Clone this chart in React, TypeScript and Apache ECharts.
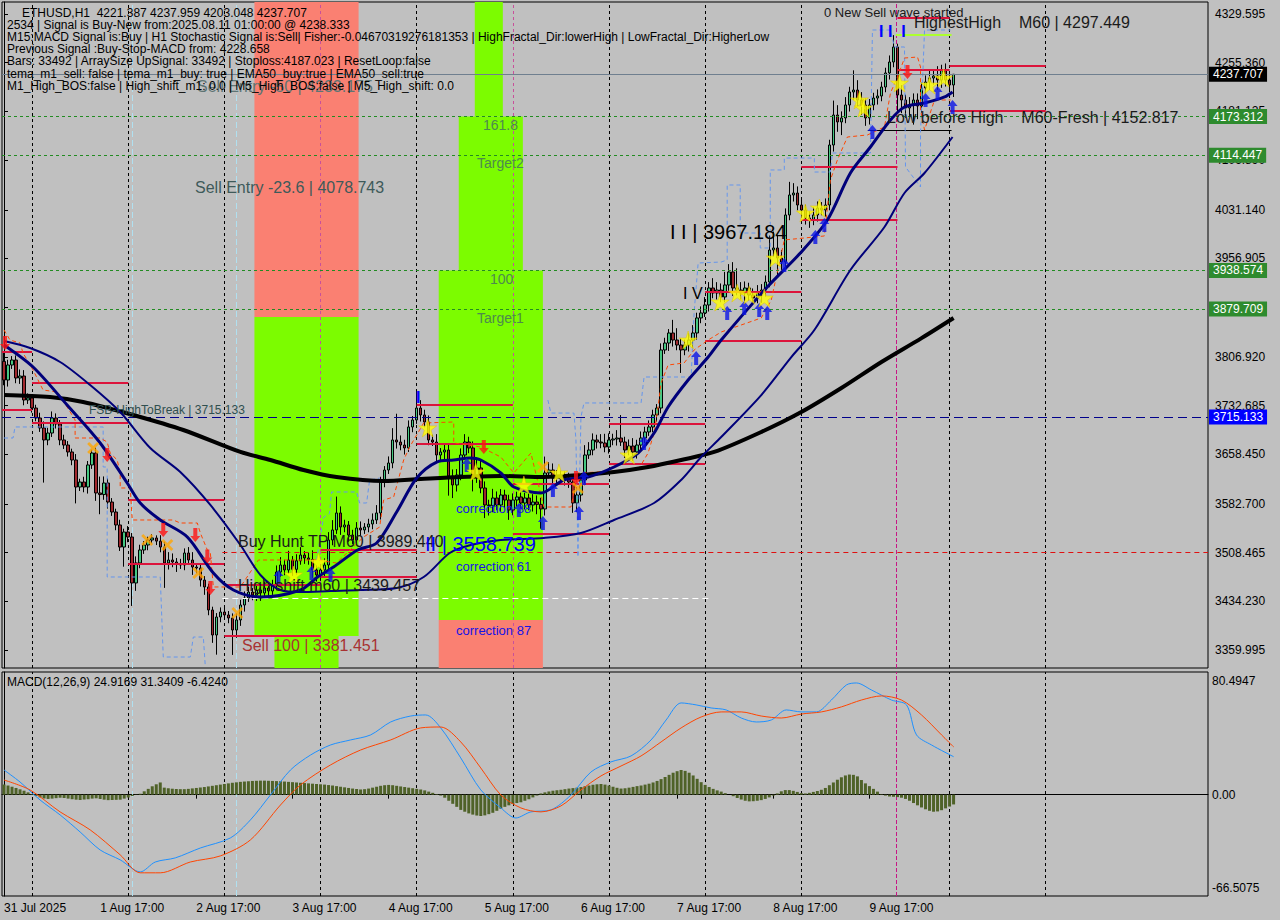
import React, { useEffect, useRef } from "react";
import * as echarts from "echarts";

const SLOTS = 301;
const PRICE_MIN = 3332.57;
const PRICE_MAX = 4347.89;
const MACD_MIN = -66.5075;
const MACD_MAX = 80.4947;
const FIRST_OPEN = 3800;
const FONT = '"Liberation Sans", Arial, sans-serif';

const tickLabels = ["31 Jul 2025", "1 Aug 17:00", "2 Aug 17:00", "3 Aug 17:00", "4 Aug 17:00", "5 Aug 17:00", "6 Aug 17:00", "7 Aug 17:00", "8 Aug 17:00", "9 Aug 17:00"];
const priceTicks = [4329.595, 4255.36, 4181.125, 4106.89, 4031.14, 3956.905, 3882.67, 3806.92, 3732.685, 3658.45, 3582.7, 3508.465, 3434.23, 3359.995];
const macdZeroTick = [0];
const macdEdgeLabels = ["80.4947", "-66.5075"];

const closes = [
  3771.6, 3794.5, 3802.1, 3774.7, 3777.7, 3741.1, 3744.2, 3728.9, 3713.7, 3698.5,
  3680.2, 3690.8, 3713.7, 3704.6, 3680.2, 3672.5, 3661.9, 3649.7, 3608.5, 3616.1,
  3608.5, 3642.1, 3660.3, 3599.4, 3597.0, 3614.6, 3585.6, 3570.4, 3550.6, 3517.0,
  3539.9, 3532.3, 3462.2, 3492.7, 3512.5, 3520.1, 3527.7, 3530.8, 3526.0, 3517.0,
  3492.7, 3497.2, 3494.2, 3491.0, 3489.6, 3507.9, 3497.2, 3486.5, 3485.0, 3466.7,
  3456.1, 3421.0, 3382.9, 3410.3, 3417.9, 3413.4, 3408.8, 3390.5, 3405.8, 3428.6,
  3439.3, 3448.4, 3443.9, 3451.5, 3446.9, 3454.5, 3450.0, 3459.1, 3478.9, 3489.6,
  3482.0, 3497.2, 3483.0, 3496.0, 3504.8, 3500.3, 3498.0, 3482.0, 3474.4, 3482.0,
  3489.6, 3527.7, 3543.0, 3568.9, 3547.5, 3550.6, 3535.3, 3527.7, 3546.0, 3543.0,
  3547.5, 3552.1, 3558.2, 3568.9, 3616.1, 3634.4, 3645.1, 3680.2, 3677.1, 3672.5,
  3668.0, 3700.0, 3710.7, 3728.9, 3718.3, 3707.6, 3680.2, 3677.1, 3657.3, 3661.9,
  3664.9, 3625.3, 3611.6, 3626.8, 3657.3, 3677.1, 3668.0, 3626.8, 3637.5, 3607.0,
  3581.1, 3580.0, 3591.7, 3581.1, 3596.3, 3588.7, 3573.4, 3588.7, 3593.3, 3584.1,
  3591.7, 3581.1, 3585.6, 3582.0, 3575.0, 3629.9, 3634.4, 3622.2, 3625.3, 3620.7,
  3622.2, 3616.1, 3584.1, 3596.3, 3619.2, 3657.3, 3664.9, 3680.2, 3677.1, 3675.6,
  3669.5, 3680.2, 3681.7, 3683.2, 3677.1, 3664.9, 3671.0, 3661.9, 3672.5, 3683.2,
  3692.4, 3700.0, 3718.3, 3728.9, 3817.4, 3828.0, 3843.3, 3832.6, 3825.0, 3817.4,
  3825.0, 3832.6, 3843.3, 3866.2, 3873.8, 3886.0, 3911.9, 3904.3, 3908.8, 3898.2,
  3916.5, 3936.3, 3911.9, 3908.8, 3904.3, 3911.9, 3901.2, 3896.6, 3904.3, 3908.8,
  3921.0, 3969.8, 3972.9, 3957.6, 3951.5, 4023.2, 4053.7, 4056.7, 4038.4, 4030.8,
  4018.6, 4015.6, 4023.2, 4033.8, 4030.8, 4038.4, 4129.9, 4175.6, 4165.0, 4171.1,
  4190.9, 4210.7, 4213.7, 4198.5, 4190.9, 4171.1, 4190.9, 4201.5, 4204.6, 4218.3,
  4239.7, 4256.4, 4279.3, 4206.1, 4198.5, 4186.3, 4190.9, 4198.5, 4189.3, 4216.8,
  4225.9, 4232.0, 4235.1, 4229.0, 4244.2, 4229.0, 4221.387, 4237.707,
];

const wickUp = [
  15, 8, 6, 7, 10, 9, 7, 6, 5, 8,
  10, 8, 10, 7, 6, 8, 6, 5, 9, 5,
  8, 6, 5, 8, 25, 10, 7, 6, 5, 8,
  5, 9, 6, 10, 8, 6, 5, 6, 4, 9,
  8, 12, 10, 6, 8, 7, 9, 12, 6, 5,
  6, 5, 5, 6, 7, 8, 6, 7, 10, 8,
  10, 8, 6, 7, 5, 9, 6, 8, 10, 12,
  8, 14, 6, 10, 12, 6, 8, 14, 7, 9,
  10, 12, 15, 25, 10, 8, 6, 8, 9, 10,
  6, 8, 10, 12, 8, 6, 10, 18, 40, 10,
  8, 10, 6, 25, 12, 8, 10, 8, 12, 6,
  10, 8, 10, 9, 10, 12, 8, 10, 14, 12,
  10, 8, 14, 10, 9, 8, 8, 10, 8, 9,
  8, 8, 12, 10, 10, 25, 12, 10, 9, 8,
  10, 8, 8, 12, 6, 15, 12, 10, 8, 12,
  14, 10, 8, 12, 35, 8, 10, 12, 8, 10,
  8, 10, 8, 6, 10, 8, 6, 20, 18, 10,
  8, 10, 12, 8, 10, 12, 9, 15, 12, 10,
  20, 12, 15, 30, 12, 10, 8, 10, 12, 9,
  10, 22, 25, 20, 12, 10, 20, 15, 10, 12,
  8, 10, 12, 10, 9, 10, 8, 22, 15, 10,
  12, 8, 30, 15, 12, 10, 9, 8, 10, 8,
  8, 10, 18.1, 5, 15, 8, 12, 10, 10, 8,
  10, 12, 10, 15, 8, 10, 9, 0.252,
];

const wickDn = [
  8, 10, 6, 8, 9, 8, 6, 7, 5, 6,
  65, 8, 6, 7, 8, 6, 7, 8, 25, 6,
  8, 10, 6, 12, 30, 8, 10, 6, 8, 6,
  30, 8, 35, 12, 8, 6, 8, 5, 6, 8,
  38, 10, 8, 12, 6, 8, 7, 12, 8, 10,
  12, 8, 12, 30, 8, 6, 8, 38, 12, 9,
  10, 6, 8, 9, 12, 8, 10, 6, 8, 7,
  8, 6, 10, 8, 6, 9, 8, 12, 10, 9,
  10, 6, 8, 6, 12, 8, 10, 6, 8, 9,
  6, 8, 8, 6, 10, 8, 6, 8, 10, 8,
  10, 6, 8, 6, 10, 8, 8, 6, 10, 8,
  12, 30, 20, 10, 8, 6, 8, 25, 12, 8,
  20, 15, 10, 8, 10, 12, 15, 8, 10, 8,
  10, 8, 10, 15, 30, 10, 8, 10, 12, 8,
  10, 9, 15, 14, 10, 8, 6, 8, 10, 8,
  8, 10, 8, 10, 6, 12, 8, 14, 10, 8,
  8, 6, 8, 10, 8, 6, 12, 10, 8, 35,
  8, 10, 12, 10, 8, 6, 10, 8, 10, 8,
  8, 10, 12, 8, 10, 12, 8, 10, 8, 15,
  10, 8, 10, 30, 12, 8, 8, 10, 8, 12,
  10, 12, 8, 10, 8, 10, 8, 10, 15, 20,
  8, 10, 12, 10, 15, 12, 10, 8, 10, 8,
  8, 10, 8, 25, 20, 15, 12, 30, 20, 10,
  8, 12, 10, 15, 12, 10, 8, 18.339,
];

const macdHist = [
  6.6, 6.0, 5.2, 4.4, 3.5, 2.6, 1.5, 0.4, -0.8, -1.8,
  -2.5, -2.8, -2.6, -2.3, -2.0, -2.2, -2.6, -3.0, -3.3, -3.5,
  -3.2, -3.0, -2.6, -2.4, -2.8, -3.3, -3.6, -3.5, -3.4, -3.3,
  -2.6, -1.8, -0.9, -0.2, 0.6, 2.2, 3.8, 5.5, 6.8, 8.0,
  4.6, 4.2, 3.9, 3.7, 3.6, 3.6, 3.8, 4.1, 4.4, 4.7,
  5.0, 5.4, 5.8, 6.2, 6.6, 7.0, 7.4, 7.8, 8.1, 8.4,
  8.6, 8.8, 9.0, 9.1, 9.2, 9.2, 9.1, 9.0, 8.9, 8.8,
  8.6, 8.4, 8.2, 8.0, 7.8, 7.6, 7.4, 7.2, 7.0, 6.8,
  6.6, 6.3, 6.0, 5.6, 5.2, 4.8, 4.4, 4.0, 3.7, 3.4,
  3.6, 4.0, 4.6, 5.2, 5.8, 6.2, 6.4, 6.2, 5.8, 5.4,
  5.0, 4.6, 4.2, 3.8, 3.4, 2.8, 2.0, 1.2, 0.4, -0.6,
  -2.0, -4.0, -6.0, -8.0, -10.0, -11.2, -12.3, -13.1, -13.7, -14.0,
  -13.6, -12.8, -11.9, -10.6, -9.2, -8.0, -7.0, -6.2, -5.5, -5.0,
  -4.0, -3.0, -1.8, -0.6, 0.8, 1.5, 2.1, 2.6, 2.9, 3.2,
  3.6, 4.0, 4.3, 4.6, 5.0, 5.5, 6.0, 6.5, 6.8, 7.0,
  6.6, 6.0, 5.2, 4.5, 4.0, 4.2, 4.6, 5.1, 5.6, 6.0,
  6.6, 7.2, 8.0, 9.0, 10.2, 11.6, 13.0, 14.4, 15.4, 16.2,
  15.6, 14.4, 12.6, 10.4, 8.2, 6.4, 5.0, 3.8, 2.8, 2.0,
  1.0, 0.0, -1.0, -2.2, -3.2, -4.0, -4.4, -4.3, -4.0, -3.6,
  -2.8, -1.8, -0.6, 0.8, 2.2, 3.0, 3.0, 2.5, 1.8, 1.0,
  0.8, 1.2, 1.8, 2.4, 3.2, 4.4, 6.2, 8.0, 9.8, 11.4,
  12.6, 13.2, 13.0, 12.0, 9.6, 7.4, 5.6, 3.8, 2.0, 0.3,
  -0.6, -1.2, -1.4, -1.6, -2.0, -2.8, -4.0, -5.5, -7.0, -8.4,
  -9.6, -10.6, -11.2, -11.0, -10.2, -9.0, -7.8, -6.424,
];

const macdLine = [[0, 16.2], [4, 8.3], [9, -3.5], [14, -13.3], [19, -24.5], [24, -36.3], [29, -42.8], [34, -50.7], [37.75, -44.2], [42.75, -41.5], [49, -35.0], [56.5, -28.4], [61.5, -16.6], [66.5, -0.2], [71.5, 16.2], [76.5, 26.0], [81.5, 32.6], [86.5, 35.9], [91.5, 39.2], [96.5, 47.7], [101.5, 51.6], [105.25, 52.3], [109, 43.8], [114, 24.1], [119, 3.1], [124, -8.7], [127.75, -15.3], [131.5, -11.3], [136.5, -10.0], [141.5, -0.2], [146.5, 14.9], [151.5, 21.5], [156.5, 25.4], [161.5, 35.9], [165.25, 49.0], [169, 60.2], [172.75, 58.9], [176.5, 56.9], [180.25, 55.6], [184, 50.3], [187.75, 47.7], [191.5, 49.0], [195.25, 55.6], [199, 54.3], [202.75, 54.3], [206.5, 62.1], [210.25, 72.0], [212.75, 73.3], [216.5, 68.7], [221.5, 62.1], [225.25, 58.9], [227.75, 39.2], [231.5, 32.6], [237, 24.9169]];
const signalLine = [[0, 9.6], [6.5, 3.1], [14, -11.3], [21.5, -23.1], [29, -39.5], [34, -51.3], [39, -51.3], [46.5, -44.2], [54, -40.2], [61.5, -29.7], [69, -6.8], [74, 6.4], [81.5, 19.5], [89, 29.3], [96.5, 35.9], [104, 43.8], [109, 44.4], [114, 34.6], [119, 17.5], [124, -0.2], [129, -8.7], [134, -11.3], [139, -7.4], [144, 3.1], [149, 12.3], [154, 18.8], [159, 25.4], [164, 34.6], [169, 43.8], [174, 51.0], [179, 54.3], [184, 54.3], [189, 51.6], [194, 50.3], [199, 52.9], [204, 54.3], [209, 57.6], [214, 62.1], [219, 64.8], [224, 62.1], [229, 52.3], [234, 39.2], [237, 31.3409]];

const sma200 = [[0, 3748.8], [11.5, 3745.7], [19.75, 3738.1], [32.25, 3718.3], [44.75, 3695.4], [59, 3661.9], [66.5, 3649.7], [74.75, 3634.4], [83, 3623.7], [94.75, 3617.7], [104, 3620.7], [114, 3623.7], [124, 3625.3], [134.75, 3623.7], [144, 3626.8], [152.25, 3631.4], [160.75, 3639.0], [169, 3649.7], [177.25, 3661.9], [189, 3692.4], [199, 3722.8], [209, 3759.4], [219, 3799.1], [229, 3835.5], [237, 3866.2]];
const emaFast = [[0, 3825.0], [7.25, 3791.4], [15.75, 3733.5], [24, 3675.6], [30.75, 3614.6], [34, 3584.1], [39, 3558.2], [45.75, 3532.3], [52.25, 3477.4], [57.25, 3451.5], [64, 3440.8], [74, 3451.5], [78.25, 3471.3], [82.25, 3486.5], [88.25, 3512.5], [93, 3523.1], [98, 3570.4], [103, 3622.2], [108, 3646.6], [112.25, 3649.7], [116.25, 3652.7], [119, 3649.7], [124, 3629.9], [127.25, 3608.5], [134, 3599.4], [139.75, 3619.2], [145.75, 3623.7], [152.25, 3639.0], [158.25, 3660.3], [162.25, 3690.8], [165.75, 3730.5], [170.75, 3771.6], [175.75, 3806.6], [179, 3832.6], [190.5, 3913.4], [198.75, 3965.2], [205.5, 4015.5], [211.25, 4087.2], [216.25, 4126.8], [221.25, 4168.0], [224.75, 4187.8], [229.75, 4193.9], [234.75, 4203.1], [236.75, 4210.7]];
const emaSlow = [[0, 3831.1], [6.5, 3820.4], [14, 3799.1], [21.5, 3764.0], [29, 3722.8], [36.5, 3668.0], [44, 3631.4], [51.5, 3581.1], [59, 3520.1], [64, 3474.4], [69, 3451.5], [74, 3448.4], [81.5, 3450.0], [89, 3451.5], [98, 3454.5], [104.75, 3471.3], [111.25, 3507.9], [116.5, 3520.1], [124, 3527.7], [134.75, 3530.8], [144, 3538.4], [152.25, 3558.2], [162.25, 3584.1], [169, 3619.2], [174, 3654.2], [179, 3684.7], [189, 3748.7], [196.5, 3806.6], [202.25, 3847.8], [211.25, 3939.3], [219.75, 4004.9], [224.75, 4056.7], [229.75, 4087.2], [236.75, 4142.1]];

const trailStop = [[0, 3847.9], [1.5, 3832.6], [4, 3828.0], [4.75, 3812.8], [7.25, 3786.9], [9.75, 3756.4], [13.25, 3753.3], [15.75, 3730.5], [17.75, 3710.6], [17.75, 3683.2], [24, 3683.2], [25.75, 3677.1], [26.5, 3660.3], [28.25, 3649.7], [29, 3629.9], [29, 3607.0], [31.5, 3607.0], [32, 3558.2], [42.25, 3558.2], [44, 3553.6], [48.25, 3553.6], [49, 3538.4], [50.75, 3512.5], [51.5, 3507.9], [52.25, 3456.1], [59, 3456.1], [63.5, 3497.2], [78, 3497.2], [83, 3492.7], [89.75, 3532.3], [93.75, 3547.5], [94.75, 3588.7], [97.25, 3593.3], [99.75, 3649.7], [101.25, 3669.5], [104.75, 3706.1], [112.25, 3707.6], [112.25, 3675.6], [119, 3669.5], [124, 3654.2], [127.25, 3629.9], [131.5, 3660.3], [134.75, 3578.0], [141.5, 3578.0], [143.25, 3629.9], [158.25, 3634.4], [160.75, 3660.3], [162.25, 3690.8], [163.25, 3730.5], [164, 3767.0], [165.75, 3794.5], [169.75, 3797.6], [172.25, 3817.4], [175.75, 3832.6], [179, 3844.8], [189, 3866.2], [191.5, 3893.6], [194.75, 3985.1], [204.75, 3991.2], [206.25, 4076.5], [208, 4107.0], [210.5, 4142.1], [215.5, 4145.2], [219.75, 4157.3], [221.25, 4209.2], [223, 4233.5], [224.75, 4262.5], [228, 4264.0], [228.75, 4248.8], [228.75, 4183.2], [229.75, 4152.8], [232.25, 4198.5], [236.25, 4198.5]];

const envelopeA = [[0, 3683.2], [2.25, 3683.2], [2.75, 3700.0], [24.75, 3700.0], [24.75, 3639.0], [25.75, 3639.0], [25.75, 3471.3], [39, 3471.3], [39.75, 3349.3], [46.5, 3349.3], [47.25, 3379.8], [49.75, 3379.8], [50.25, 3334.1]];
const envelopeB = [[78, 3497.2], [79.75, 3562.1], [81.25, 3568.2], [81.75, 3600.9], [88, 3600.9], [88.75, 3584.1], [90.5, 3584.1], [91.25, 3619.2], [93.75, 3622.2]];
const envelopeC = [[135.75, 3741.1], [136.5, 3721.2], [142.25, 3721.2], [142.75, 3680.2], [143.25, 3501.8], [144, 3715.2], [144.75, 3736.6], [159, 3736.6], [159.75, 3776.2], [171.5, 3776.2], [172.25, 3875.1], [173.25, 3950.0], [179, 3951.5], [180.5, 3954.6], [180.5, 4068.9], [183.75, 4068.9], [183.75, 3995.7], [188.75, 3995.7], [188.75, 3972.9], [191.25, 3972.9], [191.25, 4091.8], [194.75, 4091.8], [194.75, 4110.0], [202.25, 4110.0], [202.25, 4088.7], [206.25, 4088.7], [206.75, 4117.7], [216.25, 4117.7], [216.75, 4305.2], [221.25, 4305.2], [222.25, 4279.3], [224.75, 4279.3], [225, 4096.4], [228.75, 4065.9], [228.75, 4148.2], [229.75, 4305.2], [236.25, 4305.2]];

// [startIndex, endIndex, price]
const levelSegments = [
  [-0.5, 7, 3814.5], [-0.5, 7, 3725.9], [7, 31, 3767.1], [7, 31, 3706.1],
  [31, 55, 3588.7], [31, 55, 3491.1], [55, 79, 3459.1], [55, 79, 3381.451],
  [79, 103, 3512.5], [79, 103, 3471.3], [103, 127, 3733.5], [103, 127, 3674.0],
  [127, 151, 3613.1], [127, 151, 3536.8], [151, 175, 3704.6], [151, 175, 3643.6],
  [175, 199, 3905.8], [175, 199, 3831.1], [199, 223, 4096.4], [199, 223, 4015.6],
  [223, 236, 4323.5], [223, 236, 4244.2], [236, 260, 4250.3], [236, 260, 4181.7],
];

// [x1, x2, top, bottom, kind]
const zones = [
  [62.5, 88.5, PRICE_MAX, 3867.7, "sell"],
  [62.5, 88.5, 3867.7, 3381.451, "buy"],
  [67.5, 83.5, 3381.451, PRICE_MIN, "buy"],
  [117.5, 124.5, PRICE_MAX, 4173.312, "buy"],
  [113.5, 129.5, 4173.312, 3938.574, "buy"],
  [108.5, 134.5, 3938.574, 3405.8, "buy"],
  [108.5, 134.5, 3405.8, PRICE_MIN, "sell"],
];

const gridLineIdx = [7, 31, 55, 79, 103, 127, 151, 175, 199, 236, 260];
const cyanLineIdx = [32, 58];
const pinkLineIdx = [79, 127];
const magentaLineIdx = 222.6;

const lastPrice = 4237.707;
const greenLevels = [4173.312, 4114.447, 3938.574, 3879.709];
const fsbLevel = 3715.133;
const redDashLevel = 3508.465;
const highShiftLevel = 3439.457;
const lowBeforeHigh = 4152.817;
const highestHigh = 4297.449;

const starPts = [[72.25, 3474.4], [78.5, 3494.2], [105.75, 3698.5], [117.75, 3631.4], [129.75, 3611.6], [138.5, 3629.9], [156, 3657.3], [170.75, 3832.6], [178.75, 3890.5], [183, 3904.3], [186, 3901.2], [189.75, 3896.6], [192.5, 3957.6], [200, 4026.2], [203.5, 4033.8], [213.5, 4198.5], [214.5, 4186.3], [223.5, 4224.4], [231, 4221.4], [234.5, 4232.0]];
const upArrowPts = [[68.5, 3471.3], [76.75, 3477.4], [81.5, 3474.4], [115.5, 3642.1], [128.5, 3573.5], [134.5, 3553.6], [137, 3604.0], [143.5, 3568.9], [144.75, 3622.2], [159.75, 3675.6], [172.75, 3805.2], [180.5, 3873.8], [184.75, 3881.4], [188.5, 3878.3], [190.5, 3873.8], [194.75, 3947.0], [202.5, 3989.6], [204.75, 4007.9], [216.75, 4149.7], [230, 4198.5], [233, 4209.2], [236.75, 4187.8]];
const downArrowPts = [[0.25, 3828.0], [25.75, 3657.3], [39.75, 3543.0], [47.75, 3535.3], [50.75, 3502.5], [51.5, 3454.5], [119.75, 3669.5], [142.75, 3622.2], [225.5, 4241.2]];
const crossPts = [[22.25, 3667.9], [35.75, 3527.7], [40.75, 3520.1], [48.5, 3477.4], [58.25, 3416.4], [134.5, 3639.0], [143.25, 3607.0]];

const headerLines = [
  "ETHUSD,H1  4221.387 4237.959 4203.048 4237.707",
  "2534 | Signal is Buy-New from:2025.08.11 01:00:00 @ 4238.333",
  "M15:MACD Signal is:Buy | H1 Stochastic Signal is:Sell| Fisher:-0.04670319276181353 | HighFractal_Dir:lowerHigh | LowFractal_Dir:HigherLow",
  "Previous Signal :Buy-Stop-MACD from: 4228.658",
  "Bars: 33492 | ArraySize UpSignal: 33492 | Stoploss:4187.023 | ResetLoop:false",
  "tema_m1_sell: false | tema_m1_buy: true | EMA50_buy:true | EMA50_sell:true",
  "M1_High_BOS:false | High_shift_m1: 0.0 | M5_High_BOS:false | M5_High_shift: 0.0",
];

const STAR = "path://M50,0 L61,35 L98,35 L68,57 L79,91 L50,70 L21,91 L32,57 L2,35 L39,35 Z";
const UP = "path://M5,0 L10,6 L7,6 L7,14 L3,14 L3,6 L0,6 Z";
const DOWN = "path://M3,0 L7,0 L7,8 L10,8 L5,14 L0,8 L3,8 Z";
const CROSS = "path://M0,2 L2,0 L6,4 L10,0 L12,2 L8,6 L12,10 L10,12 L6,8 L2,12 L0,10 L4,6 Z";

function txt(text: string, x: number, y: number, size: number, color: string, weight = "normal") {
  return {
    type: "text", x, y, z: 100, silent: true,
    style: { text, fill: color, font: `${weight} ${size}px ${FONT}`, verticalAlign: "middle", textVerticalAlign: "middle", align: "left" },
  };
}

function levelMark(value: number, color: string, type: any, boxColor: string) {
  return {
    yAxis: value,
    lineStyle: { color, type, width: 1 },
    label: {
      show: true, position: "end", formatter: value.toFixed(3), color: "#fff", backgroundColor: boxColor,
      padding: [2, 4, 1, 4], fontFamily: FONT, fontSize: 12, distance: 1,
    },
  };
}

function buildOption() {
  const candleData = closes.map((c, i) => {
    const o = i === 0 ? FIRST_OPEN : closes[i - 1];
    return [o, c, Math.min(o, c) - wickDn[i], Math.max(o, c) + wickUp[i]];
  });
  const cats = Array.from({ length: SLOTS }, (_, i) => String(i));
  const isTick = (i: number) => i % 24 === 0 && i / 24 < tickLabels.length;

  const vlines = (idxs: number[], lo: number, hi: number) => idxs.map((v) => ({ coords: [[v, lo], [v, hi]] }));

  const series: any[] = [
    {
      type: "line", name: "zones", xAxisIndex: 1, yAxisIndex: 0, data: [], z: 0, silent: true, symbol: "none",
      markArea: {
        silent: true,
        data: zones.map((z: any) => [
          { coord: [z[0], z[2]], itemStyle: { color: z[4] === "sell" ? "#FA8072" : "#7CFC00", opacity: 1 } },
          { coord: [z[1], z[3]] },
        ]),
      },
    },
    {
      type: "lines", coordinateSystem: "cartesian2d", xAxisIndex: 1, yAxisIndex: 0, z: 1, silent: true,
      data: vlines(gridLineIdx, PRICE_MIN, PRICE_MAX), lineStyle: { color: "#000", width: 1, type: [3, 3], opacity: 1 },
    },
    {
      type: "lines", coordinateSystem: "cartesian2d", xAxisIndex: 3, yAxisIndex: 1, z: 1, silent: true,
      data: vlines(gridLineIdx, MACD_MIN, MACD_MAX), lineStyle: { color: "#000", width: 1, type: [3, 3], opacity: 1 },
    },
    {
      type: "lines", coordinateSystem: "cartesian2d", xAxisIndex: 1, yAxisIndex: 0, z: 1, silent: true,
      data: vlines(pinkLineIdx, PRICE_MIN, PRICE_MAX), lineStyle: { color: "#C8509A", width: 1, type: [3, 3], opacity: 1 },
    },
    {
      type: "lines", coordinateSystem: "cartesian2d", xAxisIndex: 1, yAxisIndex: 0, z: 1, silent: true,
      data: vlines(cyanLineIdx, PRICE_MIN, PRICE_MAX), lineStyle: { color: "#B0E0F0", width: 1, type: [6, 3], opacity: 1 },
    },
    {
      type: "lines", coordinateSystem: "cartesian2d", xAxisIndex: 3, yAxisIndex: 1, z: 1, silent: true,
      data: vlines(cyanLineIdx, MACD_MIN, MACD_MAX), lineStyle: { color: "#B0E0F0", width: 1, type: [6, 3], opacity: 1 },
    },
    {
      type: "lines", coordinateSystem: "cartesian2d", xAxisIndex: 1, yAxisIndex: 0, z: 1, silent: true,
      data: vlines([magentaLineIdx], PRICE_MIN, PRICE_MAX), lineStyle: { color: "#C71585", width: 1, type: [4, 2], opacity: 1 },
    },
    {
      type: "lines", coordinateSystem: "cartesian2d", xAxisIndex: 3, yAxisIndex: 1, z: 1, silent: true,
      data: vlines([magentaLineIdx], MACD_MIN, MACD_MAX), lineStyle: { color: "#C71585", width: 1, type: [4, 2], opacity: 1 },
    },
    {
      type: "candlestick", xAxisIndex: 0, yAxisIndex: 0, data: candleData, barWidth: 3, z: 3,
      itemStyle: { color: "#46C882", color0: "#A0282D", borderColor: "#000", borderColor0: "#000", borderWidth: 1 },
      markLine: {
        silent: true, symbol: ["none", "none"],
        data: [
          levelMark(lastPrice, "#6F7F8F", "solid", "#000"),
          ...greenLevels.map((v) => levelMark(v, "#228B22", [3, 3], "#2E8B2E")),
          levelMark(fsbLevel, "#00008B", [9, 5], "#0000FF"),
        ],
      },
    },
    {
      type: "lines", coordinateSystem: "cartesian2d", xAxisIndex: 1, yAxisIndex: 0, z: 4, silent: true,
      data: levelSegments.map((s) => ({ coords: [[s[0], s[2]], [s[1], s[2]]] })),
      lineStyle: { color: "#DC143C", width: 2, opacity: 1 },
    },
    {
      type: "lines", coordinateSystem: "cartesian2d", xAxisIndex: 1, yAxisIndex: 0, z: 4, silent: true,
      data: [{ coords: [[54.5, redDashLevel], [300.5, redDashLevel]] }],
      lineStyle: { color: "#E01010", width: 1, type: [5, 4], opacity: 1 },
    },
    {
      type: "lines", coordinateSystem: "cartesian2d", xAxisIndex: 1, yAxisIndex: 0, z: 4, silent: true,
      data: [{ coords: [[54.5, highShiftLevel], [176.5, highShiftLevel]] }],
      lineStyle: { color: "#FFFFFF", width: 1, type: [6, 4], opacity: 1 },
    },
    {
      type: "lines", coordinateSystem: "cartesian2d", xAxisIndex: 1, yAxisIndex: 0, z: 4, silent: true,
      data: [{ coords: [[215.6, lowBeforeHigh], [236.5, lowBeforeHigh]] }],
      lineStyle: { color: "#000", width: 1, opacity: 1 },
    },
    {
      type: "lines", coordinateSystem: "cartesian2d", xAxisIndex: 1, yAxisIndex: 0, z: 4, silent: true,
      data: [{ coords: [[222.6, highestHigh], [236.5, highestHigh]] }],
      lineStyle: { color: "#ADFF2F", width: 2, opacity: 1 },
    },
    ...[envelopeA, envelopeB, envelopeC].map((d) => ({
      type: "line", xAxisIndex: 1, yAxisIndex: 0, data: d, z: 4, silent: true, symbol: "none",
      lineStyle: { color: "#6495ED", width: 1, type: [4, 3] },
    })),
    {
      type: "line", xAxisIndex: 1, yAxisIndex: 0, data: trailStop, z: 4, silent: true, symbol: "none",
      lineStyle: { color: "#FF4500", width: 1, type: [4, 3] },
    },
    {
      type: "line", xAxisIndex: 1, yAxisIndex: 0, data: sma200, z: 5, silent: true, symbol: "none", smooth: 0.3,
      lineStyle: { color: "#000", width: 4 },
    },
    {
      type: "line", xAxisIndex: 1, yAxisIndex: 0, data: emaSlow, z: 5, silent: true, symbol: "none", smooth: 0.3,
      lineStyle: { color: "#00007A", width: 2 },
    },
    {
      type: "line", xAxisIndex: 1, yAxisIndex: 0, data: emaFast, z: 5, silent: true, symbol: "none", smooth: 0.3,
      lineStyle: { color: "#00007A", width: 3 },
    },
    {
      type: "scatter", xAxisIndex: 1, yAxisIndex: 0, data: crossPts, z: 6, silent: true,
      symbol: CROSS, symbolSize: 12, itemStyle: { color: "#FFA500" },
    },
    {
      type: "scatter", xAxisIndex: 1, yAxisIndex: 0, data: downArrowPts, z: 6, silent: true,
      symbol: DOWN, symbolSize: [10, 14], itemStyle: { color: "#FF1010" },
    },
    {
      type: "scatter", xAxisIndex: 1, yAxisIndex: 0, data: upArrowPts, z: 6, silent: true,
      symbol: UP, symbolSize: [10, 14], itemStyle: { color: "#0A14E6" },
    },
    {
      type: "scatter", xAxisIndex: 1, yAxisIndex: 0, data: starPts, z: 6, silent: true,
      symbol: STAR, symbolSize: 18, itemStyle: { color: "#FFFF00", borderColor: "#E0C000", borderWidth: 0.6 },
    },
    {
      type: "bar", xAxisIndex: 2, yAxisIndex: 1, data: macdHist, barWidth: 3, z: 3, silent: true,
      itemStyle: { color: "#4F6228" },
    },
    {
      type: "line", xAxisIndex: 3, yAxisIndex: 1, data: macdLine, z: 4, silent: true, symbol: "none", smooth: 0.3,
      lineStyle: { color: "#1E90FF", width: 1 },
    },
    {
      type: "line", xAxisIndex: 3, yAxisIndex: 1, data: signalLine, z: 4, silent: true, symbol: "none", smooth: 0.3,
      lineStyle: { color: "#FF4500", width: 1 },
    },
  ];

  const graphics: any[] = [
    txt("Sell Entry -50 | 4233.175", 197, 86, 16, "#5E7474"),
    ...headerLines.map((t, k) => txt(t, k === 0 ? 22 : 7, 12.5 + k * 12.2, 12, "#000")),
    txt("Sell Entry -23.6 | 4078.743", 195, 187, 16, "#3E5A5A"),
    txt("161.8", 483, 125, 14, "#4E8A4E"),
    txt("Target2", 477, 163, 14, "#4E8A4E"),
    txt("100", 490, 279, 14, "#4E8A4E"),
    txt("Target1", 477, 318, 14, "#4E8A4E"),
    txt("FSB-HighToBreak | 3715.133", 89, 410, 12, "#2F4F4F"),
    txt("Buy Hunt TP M60 | 3989.440", 238, 541, 16, "#1A1A1A"),
    txt("High shift m60 | 3439.457", 238, 585, 16, "#1A1A1A"),
    txt("II | 3558.739", 425, 544, 20, "#0000FF"),
    txt("correction 38", 456, 508, 13, "#1414E6"),
    txt("correction 61", 456, 566, 13, "#1414E6"),
    txt("correction 87", 456, 630, 13, "#1414E6"),
    txt("Sell 100 | 3381.451", 242, 645, 16, "#A83232"),
    txt("I I | 3967.184", 670, 232, 20, "#000"),
    txt("I V", 683, 293, 16, "#000"),
    txt("I", 416, 397, 16, "#0000FF", "bold"),
    txt("I I  I", 879, 31, 16, "#0000FF", "bold"),
    txt("0 New Sell wave started", 824, 12, 13, "#1A1A1A"),
    txt("HighestHigh    M60 | 4297.449", 914, 22, 16, "#1A1A1A"),
    txt("Low before High    M60-Fresh | 4152.817", 887, 117, 16, "#1A1A1A"),
    txt("MACD(12,26,9) 24.9169 31.3409 -6.4240", 7, 682, 12, "#000"),
    txt(macdEdgeLabels[0], 1212, 681, 12, "#000"),
    txt(macdEdgeLabels[1], 1212, 888, 12, "#000"),
  ];

  return {
    animation: false,
    backgroundColor: "#C0C0C0",
    grid: [
      { left: 2, top: 2, width: 1206, height: 666, show: true, borderColor: "#000", borderWidth: 1, backgroundColor: "transparent" },
      { left: 2, top: 672, width: 1206, height: 224, show: true, borderColor: "#000", borderWidth: 1, backgroundColor: "transparent" },
    ],
    xAxis: [
      { type: "category", gridIndex: 0, data: cats, show: false, boundaryGap: true },
      { type: "value", gridIndex: 0, min: -0.5, max: SLOTS - 0.5, show: false },
      {
        type: "category", gridIndex: 1, data: cats, boundaryGap: true,
        axisLine: { show: true, lineStyle: { color: "#000" } },
        axisTick: { show: true, alignWithLabel: true, interval: (i: number) => isTick(i), length: 4, lineStyle: { color: "#000" } },
        axisLabel: {
          interval: (i: number) => isTick(i), formatter: (_v: string, i: number) => tickLabels[Math.round(i / 24)] || "",
          align: "left", color: "#000", fontFamily: FONT, fontSize: 12, margin: 6,
        },
        splitLine: { show: false },
      },
      { type: "value", gridIndex: 1, min: -0.5, max: SLOTS - 0.5, show: false },
    ],
    yAxis: [
      {
        type: "value", gridIndex: 0, position: "right", min: PRICE_MIN, max: PRICE_MAX, scale: true,
        splitLine: { show: false },
        axisLine: { show: true, lineStyle: { color: "#000" } },
        axisTick: { show: true, customValues: priceTicks, length: 4, lineStyle: { color: "#000" } },
        axisLabel: { customValues: priceTicks, formatter: (v: number) => v.toFixed(3), color: "#000", fontFamily: FONT, fontSize: 12, margin: 7 },
      },
      {
        type: "value", gridIndex: 1, position: "right", min: MACD_MIN, max: MACD_MAX, scale: true,
        splitLine: { show: false },
        axisLine: { show: true, lineStyle: { color: "#000" } },
        axisTick: { show: true, customValues: macdZeroTick, length: 4, lineStyle: { color: "#000" } },
        axisLabel: {
          customValues: macdZeroTick, formatter: () => "0.00",
          color: "#000", fontFamily: FONT, fontSize: 12, margin: 4,
        },
      },
    ],
    series,
    graphic: graphics,
  };
}

export default function App() {
  const ref = useRef<HTMLDivElement>(null);
  useEffect(() => {
    const chart = echarts.init(ref.current as HTMLDivElement, null, { renderer: "svg" });
    chart.setOption(buildOption() as any);
    return () => chart.dispose();
  }, []);
  return <div ref={ref} style={{ position: "fixed", left: 0, top: 0, width: 1280, height: 920 }} />;
}
